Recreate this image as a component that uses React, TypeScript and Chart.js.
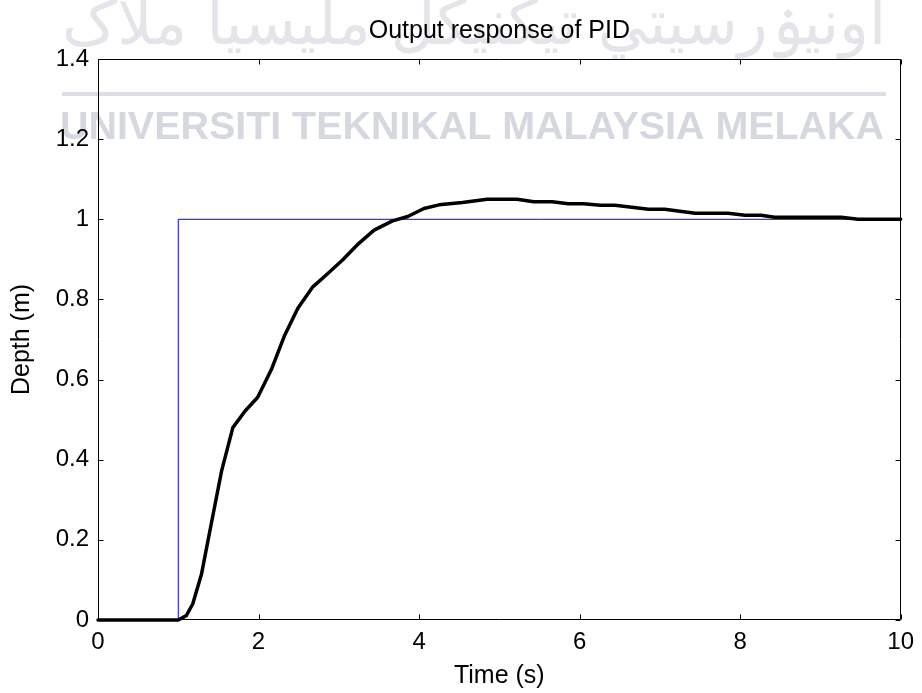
import React, { useEffect, useRef } from "react";
import { Chart, registerables } from "chart.js";

Chart.register(...registerables);

// PID closed-loop output: time (s) and depth (m)
const responseTime = [
  0, 1.0, 1.1, 1.18, 1.29, 1.41, 1.54, 1.68, 1.83, 1.99, 2.16, 2.32, 2.49, 2.67,
  2.86, 3.05, 3.25, 3.44, 3.67, 3.86, 4.06, 4.25, 4.54, 4.85, 5.22, 5.43, 5.66,
  5.86, 6.05, 6.26, 6.44, 6.86, 7.06, 7.44, 7.85, 8.06, 8.26, 8.43, 9.26, 9.47, 10,
];
const responseDepth = [
  0, 0, 0.011, 0.04, 0.115, 0.239, 0.372, 0.48, 0.521, 0.556, 0.625, 0.708, 0.778,
  0.83, 0.864, 0.899, 0.94, 0.973, 0.996, 1.007, 1.027, 1.036, 1.042, 1.05, 1.05,
  1.044, 1.044, 1.039, 1.039, 1.035, 1.035, 1.025, 1.025, 1.015, 1.015, 1.01, 1.01,
  1.005, 1.005, 1.0, 1.0,
];

// Step reference (setpoint)
const setpointTime = [0, 1, 1, 10];
const setpointDepth = [0, 0, 1, 1];

// Axis limits and tick spacing
const xRange = [0, 10];
const xStep = 2;
const yRange = [0, 1.4];
const yStep = 0.2;

const chartTitle = "Output response of PID";
const xLabel = "Time (s)";
const yLabel = "Depth (m)";
const watermarkLatin = "UNIVERSITI TEKNIKAL MALAYSIA MELAKA";
const watermarkJawi = "اونيۏرسيتي تيکنيکل مليسيا ملاک";

const FONT = "'Liberation Sans', Arial, Helvetica, sans-serif";

const toPoints = (xs: number[], ys: number[]) => xs.map((x, i) => ({ x, y: ys[i] }));

// Faint institutional watermark behind the figure
const watermarkPlugin = {
  id: "watermark",
  beforeDraw(chart: any) {
    const { ctx } = chart;
    ctx.save();
    const left = 62;
    const width = 824;

    // Jawi line
    ctx.font = `62px 'DejaVu Sans', sans-serif`;
    ctx.fillStyle = "rgb(228,229,233)";
    ctx.textBaseline = "alphabetic";
    ctx.textAlign = "left";
    const jw = ctx.measureText(watermarkJawi).width;
    ctx.save();
    ctx.translate(left, 44);
    ctx.scale(width / jw, 1);
    ctx.fillText(watermarkJawi, 0, 0);
    ctx.restore();

    // separator bar
    ctx.fillStyle = "rgb(220,222,228)";
    ctx.fillRect(left, 92, width, 4);

    // Latin line
    ctx.font = `bold 39px ${FONT}`;
    ctx.fillStyle = "rgb(214,216,224)";
    const lw = ctx.measureText(watermarkLatin).width;
    ctx.save();
    ctx.translate(left - 2, 139);
    ctx.scale(width / lw, 1);
    ctx.fillText(watermarkLatin, 0, 0);
    ctx.restore();

    ctx.restore();
  },
};

// Boxed axes with inward tick marks on all four sides, and the axes title
const framePlugin = {
  id: "boxFrame",
  afterDatasetsDraw(chart: any) {
    const { ctx, chartArea, scales } = chart;
    const { left, right, top, bottom } = chartArea;
    const xs = scales.x;
    const ys = scales.y;
    const tick = 5;
    ctx.save();
    ctx.strokeStyle = "#000";
    ctx.lineWidth = 1;
    ctx.beginPath();
    const L = Math.round(left) + 0.5;
    const R = Math.round(right) - 0.5;
    const T = Math.round(top) + 0.5;
    const B = Math.round(bottom) - 0.5;
    ctx.rect(L, T, R - L, B - T);
    for (let v = xRange[0]; v <= xRange[1] + 1e-9; v += xStep) {
      const px = Math.round(xs.getPixelForValue(v)) + 0.5;
      ctx.moveTo(px, B);
      ctx.lineTo(px, B - tick);
      ctx.moveTo(px, T);
      ctx.lineTo(px, T + tick);
    }
    for (let v = yRange[0]; v <= yRange[1] + 1e-9; v += yStep) {
      const py = Math.round(ys.getPixelForValue(v)) + 0.5;
      ctx.moveTo(L, py);
      ctx.lineTo(L + tick, py);
      ctx.moveTo(R, py);
      ctx.lineTo(R - tick, py);
    }
    ctx.stroke();

    // title centred over the axes box
    ctx.fillStyle = "#000";
    ctx.font = `25px ${FONT}`;
    ctx.textAlign = "center";
    ctx.textBaseline = "middle";
    ctx.fillText(chartTitle, (left + right) / 2, 31);
    ctx.restore();
  },
};

export default function App() {
  const canvasRef = useRef<HTMLCanvasElement | null>(null);

  useEffect(() => {
    const canvas = canvasRef.current;
    if (!canvas) return;
    const chart = new Chart(canvas, {
      type: "line",
      data: {
        datasets: [
          {
            label: "Setpoint",
            data: toPoints(setpointTime, setpointDepth),
            borderColor: "#0000ff",
            borderWidth: 1,
            pointRadius: 0,
            tension: 0,
            fill: false,
            order: 2,
          },
          {
            label: "PID output",
            data: toPoints(responseTime, responseDepth),
            borderColor: "#000000",
            borderWidth: 3.5,
            borderJoinStyle: "round",
            borderCapStyle: "round",
            pointRadius: 0,
            tension: 0,
            fill: false,
            clip: 6,
            order: 1,
          } as any,
        ],
      },
      options: {
        animation: false,
        responsive: true,
        maintainAspectRatio: false,
        layout: { padding: { left: 0, right: 19, top: 59, bottom: 0 } },
        plugins: {
          legend: { display: false },
          tooltip: { enabled: false },
          title: { display: false },
        },
        scales: {
          x: {
            type: "linear",
            min: xRange[0],
            max: xRange[1],
            ticks: {
              stepSize: xStep,
              color: "#000",
              font: { family: FONT, size: 24 },
              padding: 8,
              maxRotation: 0,
              autoSkip: false,
            },
            grid: { display: false, drawTicks: false },
            border: { display: false },
            title: {
              display: true,
              text: xLabel,
              color: "#000",
              font: { family: FONT, size: 25 },
              padding: { top: 0, bottom: 2 },
            },
            afterFit(scale: any) {
              scale.height = 73;
            },
          },
          y: {
            type: "linear",
            min: yRange[0],
            max: yRange[1],
            ticks: {
              stepSize: yStep,
              color: "#000",
              font: { family: FONT, size: 24 },
              padding: 9,
              callback: (v: any) => String(Number(Number(v).toFixed(1))),
            },
            grid: { display: false, drawTicks: false },
            border: { display: false },
            title: {
              display: true,
              text: yLabel,
              color: "#000",
              font: { family: FONT, size: 25 },
              padding: { top: 7, bottom: 0 },
            },
            afterFit(scale: any) {
              scale.width = 98;
            },
          },
        },
      },
      plugins: [watermarkPlugin, framePlugin],
    });
    return () => chart.destroy();
  }, []);

  return (
    <div
      style={{
        position: "absolute",
        left: 0,
        top: 0,
        width: 922,
        height: 693,
        background: "#fff",
      }}
    >
      <canvas ref={canvasRef} />
    </div>
  );
}
